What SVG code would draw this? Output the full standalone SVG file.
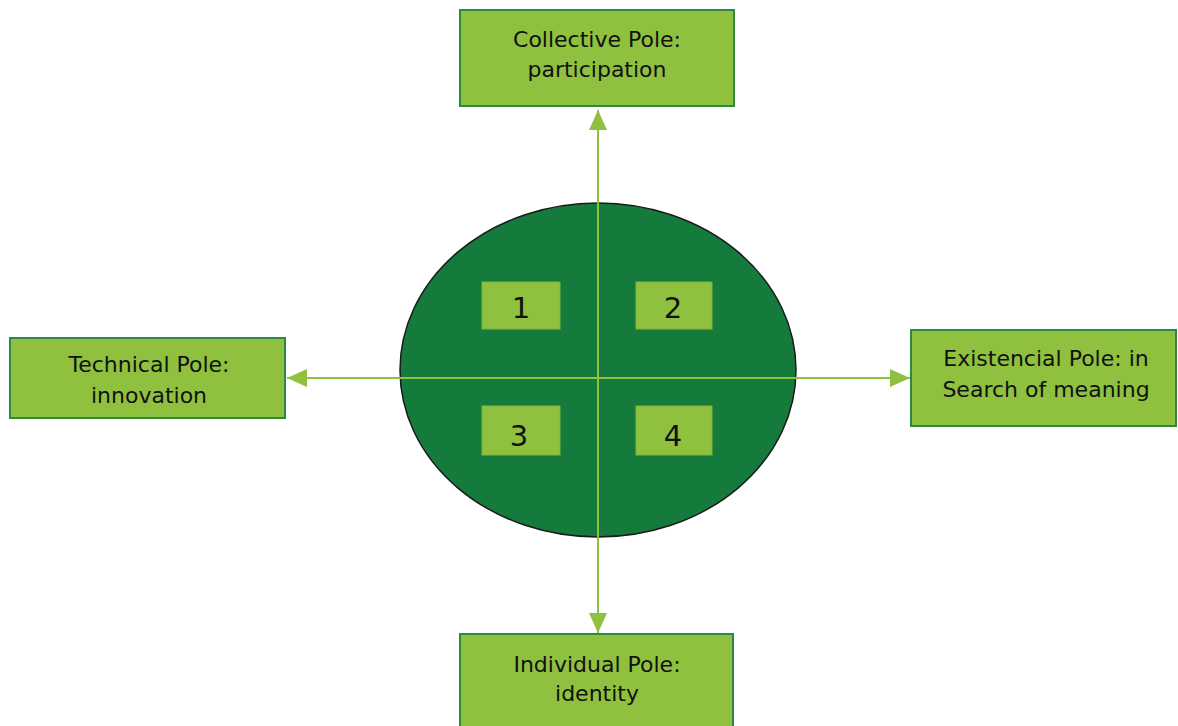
<svg xmlns="http://www.w3.org/2000/svg" width="1178" height="726" viewBox="0 0 1178 726">
<style>
.box{fill:#8fc13e;stroke:#2b8a3e;stroke-width:2}
.sq{fill:#8fc13e;stroke:#7fb53a;stroke-width:1}
.t{font-family:"DejaVu Sans",Verdana,sans-serif;font-size:22px;fill:#111;text-anchor:middle}
.n{font-family:"DejaVu Sans",Verdana,sans-serif;font-size:29px;fill:#111;text-anchor:middle}
.ln{stroke:#8fc13e;stroke-width:2;fill:none}
</style>
<defs>
<marker id="ah" viewBox="0 0 20 18" refX="20" refY="9" markerWidth="20" markerHeight="18" markerUnits="userSpaceOnUse" orient="auto">
<path d="M0,0 L20,9 L0,18 Z" fill="#8fc13e"/>
</marker>
</defs>
<rect width="1178" height="726" fill="#fff"/>
<g id="ellipse">
<ellipse cx="598" cy="370" rx="198" ry="167" fill="#147b3c" stroke="#1a1a1a" stroke-width="1.5"/>
</g>
<g id="connectors">
<line class="ln" x1="598" y1="370" x2="598" y2="110" marker-end="url(#ah)"/>
<line class="ln" x1="598" y1="370" x2="598" y2="633" marker-end="url(#ah)"/>
<line class="ln" x1="598" y1="378" x2="287" y2="378" marker-end="url(#ah)"/>
<line class="ln" x1="598" y1="378" x2="910" y2="378" marker-end="url(#ah)"/>
</g>
<g id="q1"><rect class="sq" x="482" y="282" width="78" height="47"/><text class="n" x="521" y="318">1</text></g>
<g id="q2"><rect class="sq" x="636" y="282" width="76" height="47"/><text class="n" x="673" y="318">2</text></g>
<g id="q3"><rect class="sq" x="482" y="406" width="78" height="49"/><text class="n" x="519" y="446">3</text></g>
<g id="q4"><rect class="sq" x="636" y="406" width="76" height="49"/><text class="n" x="673" y="446">4</text></g>
<g id="collective">
<rect class="box" x="460" y="10" width="274" height="96"/>
<text class="t" x="597" y="47">Collective Pole:</text>
<text class="t" x="597" y="77">participation</text>
</g>
<g id="technical">
<rect class="box" x="10" y="338" width="275" height="80"/>
<text class="t" x="149" y="372">Technical Pole:</text>
<text class="t" x="149" y="403">innovation</text>
</g>
<g id="existencial">
<rect class="box" x="911" y="330" width="265" height="96"/>
<text class="t" x="1046" y="366">Existencial Pole: in</text>
<text class="t" x="1046" y="397">Search of meaning</text>
</g>
<g id="individual">
<rect class="box" x="460" y="634" width="273" height="100"/>
<text class="t" x="597" y="672">Individual Pole:</text>
<text class="t" x="597" y="701">identity</text>
</g>
</svg>
